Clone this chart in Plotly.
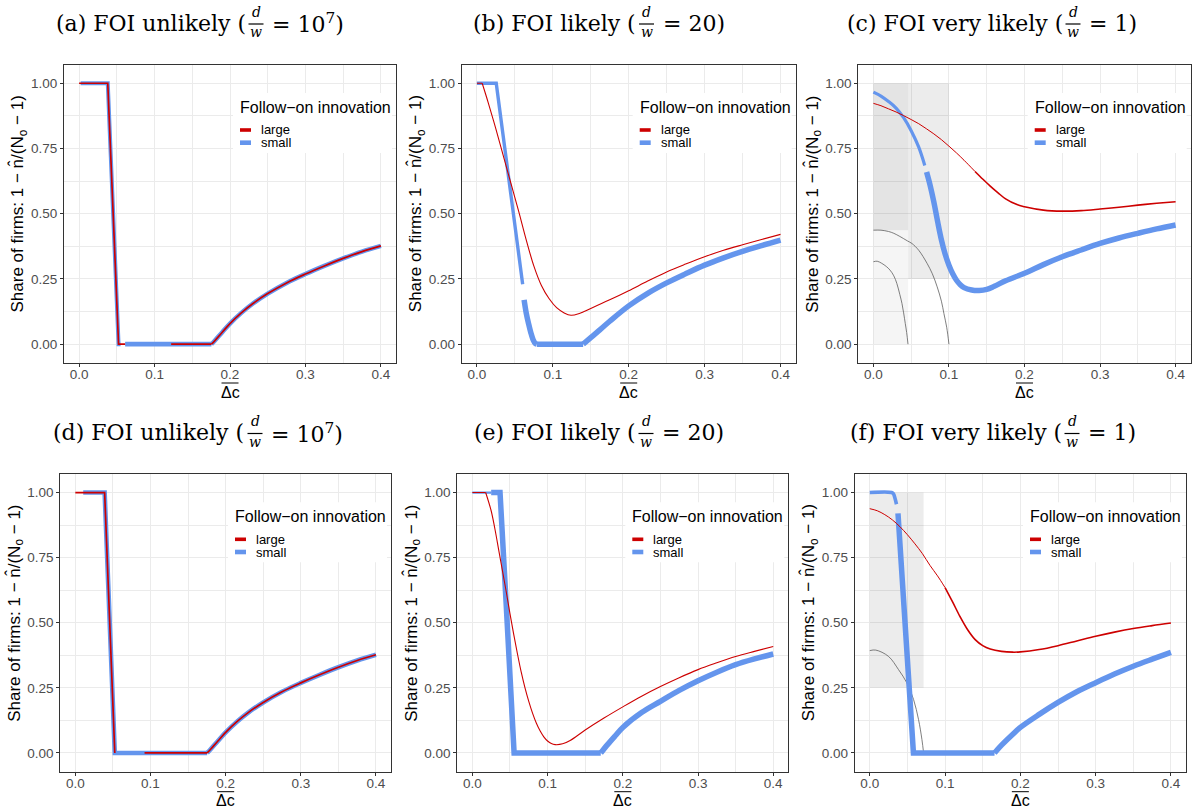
import plotly.graph_objects as go

W, H = 1194, 812

# ---------------- data ----------------
X_TICK_VALS = [0.0, 0.1, 0.2, 0.3, 0.4]
X_TICK_TEXT = ["0.0", "0.1", "0.2", "0.3", "0.4"]
Y_TICK_VALS = [0.0, 0.25, 0.5, 0.75, 1.0]
Y_TICK_TEXT = ["0.00", "0.25", "0.50", "0.75", "1.00"]

PANEL_LABELS = ["(a) FOI unlikely (", "(b) FOI likely (", "(c) FOI very likely (",
                "(d) FOI unlikely (", "(e) FOI likely (", "(f) FOI very likely ("]
PANEL_RATIO = ["10<sup>7</sup>", "20", "1", "10<sup>7</sup>", "20", "1"]
SERIES = ["large", "small"]
LEGEND_TITLE = "Follow\u2212on innovation"
Y_TITLE = "Share of firms: 1 \u2212 n\u0302/(N<sub>o</sub> \u2212 1)"
X_TITLE = "\u0394c"

# panel (a)
A_LARGE_STEP_X = [0.0, 0.038, 0.0523, 0.061]
A_LARGE_STEP_Y = [1.0, 1.0, 0.0, 0.0]
A_LARGE_FLAT_X = [0.122, 0.1754]
A_LARGE_FLAT_Y = [0.0, 0.0]
A_LARGE_RISE_X = [0.1754, 0.18, 0.19, 0.2, 0.215, 0.23, 0.25, 0.275, 0.3, 0.325, 0.35, 0.375, 0.4]
A_LARGE_RISE_Y = [0.0, 0.014, 0.047, 0.079, 0.12, 0.155, 0.194, 0.235, 0.269, 0.300, 0.329, 0.355, 0.377]
A_SMALL_STEP1_X = [0.002, 0.038, 0.0523, 0.055]
A_SMALL_STEP1_Y = [1.0, 1.0, 0.0, 0.0]
A_SMALL_STEP2_X = [0.061, 0.1754]
A_SMALL_STEP2_Y = [0.0, 0.0]
A_SMALL_RISE_X = [0.1754, 0.18, 0.19, 0.2, 0.215, 0.23, 0.25, 0.275, 0.3, 0.325, 0.35, 0.375, 0.4]
A_SMALL_RISE_Y = [0.0, 0.014, 0.047, 0.079, 0.12, 0.155, 0.194, 0.235, 0.269, 0.300, 0.329, 0.355, 0.377]

# panel (b)
B_LARGE_FLAT_X = [0.0, 0.007]
B_LARGE_FLAT_Y = [1.0, 1.0]
B_LARGE_CURVE_X = [0.007, 0.015, 0.025, 0.035, 0.045, 0.055, 0.065, 0.075, 0.085, 0.095, 0.105, 0.115,
                   0.124, 0.135, 0.15, 0.175, 0.2, 0.225, 0.25, 0.275, 0.3, 0.325, 0.35, 0.375, 0.4]
B_LARGE_CURVE_Y = [1.0, 0.925, 0.825, 0.72, 0.615, 0.51, 0.40, 0.30, 0.225, 0.175, 0.14, 0.12,
                   0.111, 0.118, 0.137, 0.17, 0.205, 0.242, 0.277, 0.307, 0.335, 0.36, 0.381, 0.401, 0.421]
B_SMALL_THIN_X = [0.0, 0.0255, 0.0603]
B_SMALL_THIN_Y = [1.0, 1.0, 0.23]
B_SMALL_DROP_X = [0.0622, 0.065, 0.068, 0.071, 0.074, 0.077, 0.079]
B_SMALL_DROP_Y = [0.17, 0.12, 0.08, 0.045, 0.018, 0.003, 0.0]
B_SMALL_FLAT_X = [0.079, 0.14]
B_SMALL_FLAT_Y = [0.0, 0.0]
B_SMALL_RISE_X = [0.14, 0.15, 0.16, 0.175, 0.2, 0.225, 0.25, 0.275, 0.3, 0.325, 0.35, 0.375, 0.4]
B_SMALL_RISE_Y = [0.0, 0.025, 0.05, 0.088, 0.147, 0.195, 0.235, 0.27, 0.303, 0.331, 0.356, 0.378, 0.399]

# panel (c)
C_LARGE1_X = [0.0, 0.01, 0.02, 0.03, 0.04, 0.05, 0.06, 0.07, 0.08, 0.09, 0.1, 0.11, 0.12, 0.1345]
C_LARGE1_Y = [0.923, 0.914, 0.902, 0.89, 0.876, 0.861, 0.845, 0.826, 0.806, 0.784, 0.759, 0.733, 0.705, 0.662]
C_LARGE2_X = [0.1345, 0.145, 0.155, 0.165, 0.175, 0.19, 0.2, 0.225, 0.25, 0.275, 0.3, 0.325, 0.35, 0.375, 0.4]
C_LARGE2_Y = [0.662, 0.632, 0.605, 0.58, 0.557, 0.535, 0.527, 0.514, 0.51, 0.512, 0.518, 0.525, 0.533, 0.54, 0.546]
C_SMALL1_X = [0.0, 0.01, 0.02, 0.03, 0.04, 0.05, 0.06, 0.068]
C_SMALL1_Y = [0.966, 0.951, 0.93, 0.905, 0.868, 0.818, 0.755, 0.685]
C_SMALL2_X = [0.0704, 0.075, 0.08, 0.085, 0.09, 0.095, 0.1, 0.105, 0.11, 0.115, 0.12, 0.13, 0.14, 0.15,
              0.16, 0.175, 0.2, 0.225, 0.25, 0.275, 0.3, 0.325, 0.35, 0.375, 0.4]
C_SMALL2_Y = [0.66, 0.61, 0.545, 0.47, 0.40, 0.345, 0.303, 0.27, 0.245, 0.228, 0.217, 0.208, 0.206, 0.21,
              0.222, 0.243, 0.272, 0.305, 0.335, 0.361, 0.386, 0.407, 0.425, 0.442, 0.457]
C_BOUND1_X = [0.0, 0.01, 0.02, 0.027, 0.035, 0.045, 0.051, 0.06, 0.071, 0.078, 0.0844, 0.09, 0.0933, 0.097, 0.1]
C_BOUND1_Y = [0.437, 0.437, 0.432, 0.425, 0.413, 0.396, 0.386, 0.36, 0.31, 0.27, 0.22, 0.165, 0.118, 0.065, 0.0]
C_BOUND2_X = [0.0, 0.005, 0.011, 0.017, 0.022, 0.027, 0.031, 0.035, 0.0378, 0.040, 0.0422, 0.044, 0.0458]
C_BOUND2_Y = [0.316, 0.318, 0.31, 0.298, 0.284, 0.262, 0.233, 0.19, 0.156, 0.12, 0.079, 0.045, 0.0]
C_SHADE_GRAY = ([0.046, 0.1], [0.25, 1.0])
C_SHADE_DARK = ([0.0, 0.046], [0.437, 1.0])
C_SHADE_LIGHT = ([0.0, 0.046], [0.0, 0.437])

# panel (d)
D_LARGE_STEP_X = [0.0, 0.039, 0.0525]
D_LARGE_STEP_Y = [1.0, 1.0, 0.0]
D_LARGE_FLAT_X = [0.0921, 0.1754]
D_LARGE_FLAT_Y = [0.0, 0.0]
D_LARGE_RISE_X = [0.1754, 0.18, 0.19, 0.2, 0.215, 0.23, 0.25, 0.275, 0.3, 0.325, 0.35, 0.375, 0.4]
D_LARGE_RISE_Y = [0.0, 0.014, 0.047, 0.079, 0.12, 0.155, 0.194, 0.235, 0.269, 0.300, 0.329, 0.355, 0.377]
D_SMALL_STEP_X = [0.0105, 0.039, 0.0525, 0.1754]
D_SMALL_STEP_Y = [1.0, 1.0, 0.0, 0.0]
D_SMALL_RISE_X = [0.1754, 0.18, 0.19, 0.2, 0.215, 0.23, 0.25, 0.275, 0.3, 0.325, 0.35, 0.375, 0.4]
D_SMALL_RISE_Y = [0.0, 0.014, 0.047, 0.079, 0.12, 0.155, 0.194, 0.235, 0.269, 0.300, 0.329, 0.355, 0.377]

# panel (e)
E_LARGE_FLAT_X = [0.0, 0.0177]
E_LARGE_FLAT_Y = [1.0, 1.0]
E_LARGE_CURVE_X = [0.0177, 0.025, 0.03, 0.035, 0.04, 0.045, 0.05, 0.055, 0.06, 0.065, 0.07, 0.075, 0.08,
                   0.085, 0.09, 0.095, 0.1, 0.105, 0.11, 0.12, 0.13, 0.15, 0.175, 0.2, 0.225, 0.25, 0.275,
                   0.3, 0.325, 0.35, 0.375, 0.4]
E_LARGE_CURVE_Y = [1.0, 0.93, 0.86, 0.78, 0.70, 0.62, 0.535, 0.455, 0.38, 0.31, 0.25, 0.198, 0.153,
                   0.115, 0.085, 0.062, 0.046, 0.036, 0.032, 0.035, 0.048, 0.088, 0.134, 0.177, 0.218, 0.255,
                   0.289, 0.32, 0.346, 0.37, 0.39, 0.409]
E_SMALL_THIN_X = [0.0, 0.025]
E_SMALL_THIN_Y = [1.0, 1.0]
E_SMALL_STEP_X = [0.025, 0.0368, 0.045, 0.05, 0.0555, 0.1707]
E_SMALL_STEP_Y = [1.0, 1.0, 0.57, 0.3, 0.0, 0.0]
E_SMALL_RISE_X = [0.1707, 0.18, 0.19, 0.2, 0.225, 0.25, 0.275, 0.3, 0.325, 0.35, 0.375, 0.4]
E_SMALL_RISE_Y = [0.0, 0.033, 0.066, 0.098, 0.155, 0.198, 0.24, 0.277, 0.31, 0.339, 0.361, 0.38]

# panel (f)
F_LARGE1_X = [0.0, 0.01, 0.02, 0.03, 0.04, 0.05, 0.06, 0.07, 0.08, 0.09, 0.1]
F_LARGE1_Y = [0.938, 0.93, 0.915, 0.895, 0.869, 0.838, 0.803, 0.765, 0.72, 0.68, 0.635]
F_LARGE2_X = [0.1, 0.11, 0.12, 0.13, 0.14, 0.15, 0.16, 0.175, 0.19, 0.2, 0.225, 0.25, 0.275, 0.3,
              0.325, 0.35, 0.375, 0.4]
F_LARGE2_Y = [0.635, 0.58, 0.523, 0.473, 0.435, 0.412, 0.399, 0.39, 0.387, 0.388, 0.397, 0.412, 0.43, 0.448,
              0.464, 0.478, 0.489, 0.499]
F_SMALL_THIN_X = [0.0, 0.029, 0.0315, 0.0335, 0.0355]
F_SMALL_THIN_Y = [1.0, 1.0, 0.995, 0.978, 0.955]
F_SMALL_STEP_X = [0.0375, 0.0425, 0.049, 0.0536, 0.058, 0.1657]
F_SMALL_STEP_Y = [0.92, 0.69, 0.39, 0.19, 0.0, 0.0]
F_SMALL_RISE_X = [0.1657, 0.175, 0.19, 0.2, 0.225, 0.25, 0.275, 0.3, 0.325, 0.35, 0.375, 0.4]
F_SMALL_RISE_Y = [0.0, 0.03, 0.072, 0.098, 0.148, 0.194, 0.235, 0.27, 0.303, 0.333, 0.36, 0.386]
F_BOUND_X = [0.0, 0.008, 0.0248, 0.0382, 0.0493, 0.0582, 0.0648, 0.0693, 0.0715]
F_BOUND_Y = [0.393, 0.395, 0.371, 0.32, 0.269, 0.205, 0.128, 0.051, 0.0]
F_SHADE_GRAY = ([0.0, 0.0715], [0.25, 1.0])

# ---------------- styles / layout ----------------
COLORS = {"large": "#CD0000", "small": "#6495ED", "bound": "#5E5E5E"}
SHADE_COLORS = {"gray": "rgba(0,0,0,0.075)", "dark": "rgba(0,0,0,0.105)", "light": "rgba(0,0,0,0.04)"}

L, S = "linear", "spline"
PANELS = [
    {"shades": [], "bounds": [],
     "segs": [("small", A_SMALL_STEP1_X, A_SMALL_STEP1_Y, 4.0, L),
              ("small", A_SMALL_STEP2_X, A_SMALL_STEP2_Y, 4.8, L),
              ("small", A_SMALL_RISE_X, A_SMALL_RISE_Y, 4.5, S),
              ("large", A_LARGE_STEP_X, A_LARGE_STEP_Y, 1.7, L),
              ("large", A_LARGE_FLAT_X, A_LARGE_FLAT_Y, 1.7, L),
              ("large", A_LARGE_RISE_X, A_LARGE_RISE_Y, 1.7, S)]},
    {"shades": [], "bounds": [],
     "segs": [("small", B_SMALL_THIN_X, B_SMALL_THIN_Y, 3.4, L),
              ("small", B_SMALL_DROP_X, B_SMALL_DROP_Y, 5.5, S),
              ("small", B_SMALL_FLAT_X, B_SMALL_FLAT_Y, 5.5, L),
              ("small", B_SMALL_RISE_X, B_SMALL_RISE_Y, 5.5, S),
              ("large", B_LARGE_FLAT_X, B_LARGE_FLAT_Y, 1.1, L),
              ("large", B_LARGE_CURVE_X, B_LARGE_CURVE_Y, 1.1, S)]},
    {"shades": [(C_SHADE_GRAY, "gray"), (C_SHADE_DARK, "dark"), (C_SHADE_LIGHT, "light")],
     "bounds": [(C_BOUND1_X, C_BOUND1_Y), (C_BOUND2_X, C_BOUND2_Y)],
     "segs": [("small", C_SMALL1_X, C_SMALL1_Y, 3.2, S), ("small", C_SMALL2_X, C_SMALL2_Y, 5.5, S),
              ("large", C_LARGE1_X, C_LARGE1_Y, 1.0, S), ("large", C_LARGE2_X, C_LARGE2_Y, 1.6, S)]},
    {"shades": [], "bounds": [],
     "segs": [("small", D_SMALL_STEP_X, D_SMALL_STEP_Y, 4.6, L),
              ("small", D_SMALL_RISE_X, D_SMALL_RISE_Y, 4.6, S),
              ("large", D_LARGE_STEP_X, D_LARGE_STEP_Y, 1.7, L),
              ("large", D_LARGE_FLAT_X, D_LARGE_FLAT_Y, 1.7, L),
              ("large", D_LARGE_RISE_X, D_LARGE_RISE_Y, 1.7, S)]},
    {"shades": [], "bounds": [],
     "segs": [("small", E_SMALL_THIN_X, E_SMALL_THIN_Y, 2.2, L),
              ("small", E_SMALL_STEP_X, E_SMALL_STEP_Y, 5.5, L),
              ("small", E_SMALL_RISE_X, E_SMALL_RISE_Y, 5.5, S),
              ("large", E_LARGE_FLAT_X, E_LARGE_FLAT_Y, 1.1, L),
              ("large", E_LARGE_CURVE_X, E_LARGE_CURVE_Y, 1.1, S)]},
    {"shades": [(F_SHADE_GRAY, "gray")],
     "bounds": [(F_BOUND_X, F_BOUND_Y)],
     "segs": [("small", F_SMALL_THIN_X, F_SMALL_THIN_Y, 3.6, S),
              ("small", F_SMALL_STEP_X, F_SMALL_STEP_Y, 5.5, L),
              ("small", F_SMALL_RISE_X, F_SMALL_RISE_Y, 5.5, S),
              ("large", F_LARGE1_X, F_LARGE1_Y, 1.0, S), ("large", F_LARGE2_X, F_LARGE2_Y, 1.6, S)]},
]

# plot-area boxes in pixels: left, right, top, bottom
BOXES = [(64, 396, 65, 363), (461.7, 795.7, 65, 363), (858.3, 1190.7, 65, 363),
         (60.3, 391, 474.3, 771.7), (457.3, 788.3, 474.3, 771.7), (854.7, 1186, 474.3, 771.7)]
TITLE_FRAC_X = [256, 646.5, 1073, 255, 646, 1072]
TITLE_Y = [23, 23, 23, 432.5, 432.5, 432.5]
X_RANGE = [-0.02, 0.42]
Y_RANGE = [-0.072, 1.07]

SANS = "Liberation Sans, Arial, sans-serif"
SERIF = "DejaVu Serif, serif"


def px(x):
    return x / W


def py(y):
    return 1 - y / H


fig = go.Figure()
shapes = []
annotations = []

for i, panel in enumerate(PANELS):
    n = "" if i == 0 else str(i + 1)
    xa, ya = "x" + n, "y" + n
    l, r, t, b = BOXES[i]
    axis_common = dict(showline=True, mirror=True, linecolor="#333333", linewidth=1,
                       ticks="outside", ticklen=3, tickcolor="#333333", tickwidth=1,
                       tickfont=dict(family=SANS, size=13.5, color="#4D4D4D"),
                       showgrid=True, gridcolor="#EBEBEB", gridwidth=1.1, zeroline=False,
                       fixedrange=True)
    fig.update_layout(**{
        "xaxis" + n: dict(domain=[px(l), px(r)], anchor=ya, range=X_RANGE,
                          tickvals=X_TICK_VALS, ticktext=X_TICK_TEXT, ticklabelstandoff=-4,
                          minor=dict(tickvals=[0.05, 0.15, 0.25, 0.35], showgrid=True,
                                     gridcolor="#EBEBEB", gridwidth=0.55, ticks=""),
                          **axis_common),
        "yaxis" + n: dict(domain=[py(b), py(t)], anchor=xa, range=Y_RANGE,
                          tickvals=Y_TICK_VALS, ticktext=Y_TICK_TEXT,
                          minor=dict(tickvals=[0.125, 0.375, 0.625, 0.875], showgrid=True,
                                     gridcolor="#EBEBEB", gridwidth=0.55, ticks=""),
                          **axis_common),
    })

    for (xs, ys), key in panel["shades"]:
        fig.add_trace(go.Scatter(x=[xs[0], xs[1], xs[1], xs[0], xs[0]],
                                 y=[ys[0], ys[0], ys[1], ys[1], ys[0]],
                                 mode="lines", fill="toself", fillcolor=SHADE_COLORS[key],
                                 line=dict(width=0), hoverinfo="skip", showlegend=False,
                                 xaxis=xa, yaxis=ya))
    for bx, by in panel["bounds"]:
        fig.add_trace(go.Scatter(x=bx, y=by, mode="lines",
                                 line=dict(color=COLORS["bound"], width=0.8, shape="spline"),
                                 hoverinfo="skip", showlegend=False, xaxis=xa, yaxis=ya))
    for series, sx, sy, wdt, shp in panel["segs"]:
        fig.add_trace(go.Scatter(x=sx, y=sy, mode="lines", name=series,
                                 line=dict(color=COLORS[series], width=wdt, shape=shp),
                                 showlegend=False, xaxis=xa, yaxis=ya))

    # panel title with stacked fraction d/w
    fx, tc = TITLE_FRAC_X[i], TITLE_Y[i]
    annotations.append(dict(text=PANEL_LABELS[i], x=px(fx - 8.5), y=py(tc), xref="paper", yref="paper",
                            xanchor="right", yanchor="middle", showarrow=False,
                            font=dict(family=SERIF, size=22, color="black")))
    annotations.append(dict(text="<i>d</i>", x=px(fx), y=py(tc - 11), xref="paper", yref="paper",
                            xanchor="center", yanchor="middle", showarrow=False,
                            font=dict(family=SERIF, size=14, color="black")))
    annotations.append(dict(text="<i>w</i>", x=px(fx), y=py(tc + 9.5), xref="paper", yref="paper",
                            xanchor="center", yanchor="middle", showarrow=False,
                            font=dict(family=SERIF, size=14, color="black")))
    shapes.append(dict(type="line", xref="paper", yref="paper", x0=px(fx - 7.5), x1=px(fx + 7.5),
                       y0=py(tc + 1), y1=py(tc + 1), line=dict(color="black", width=1.2)))
    annotations.append(dict(text="= " + PANEL_RATIO[i] + ")", x=px(fx + 14), y=py(tc),
                            xref="paper", yref="paper", xanchor="left", yanchor="middle",
                            showarrow=False, font=dict(family=SERIF, size=22, color="black")))

    # axis titles
    annotations.append(dict(text=Y_TITLE, x=px(l - 45.5), y=py((t + b) / 2 - 10), xref="paper",
                            yref="paper", xanchor="center", yanchor="middle", textangle=-90,
                            showarrow=False, font=dict(family=SANS, size=17, color="black")))
    cx = (l + r) / 2
    annotations.append(dict(text=X_TITLE, x=px(cx), y=py(b + 29), xref="paper", yref="paper",
                            xanchor="center", yanchor="middle", showarrow=False,
                            font=dict(family=SANS, size=16, color="black")))
    shapes.append(dict(type="line", xref="paper", yref="paper", x0=px(cx - 8.5), x1=px(cx + 8.5),
                       y0=py(b + 20), y1=py(b + 20), line=dict(color="black", width=1)))

    # legend box inside panel
    shapes.append(dict(type="rect", xref="paper", yref="paper", x0=px(r - 163), x1=px(r - 4),
                       y0=py(t + 28), y1=py(t + 88), fillcolor="white", line=dict(width=0),
                       layer="above"))
    annotations.append(dict(text=LEGEND_TITLE, x=px(r - 158), y=py(t + 42), xref="paper", yref="paper",
                            xanchor="left", yanchor="middle", showarrow=False,
                            font=dict(family=SANS, size=16, color="black")))
    for k, (series, oy, kw) in enumerate([("large", 65, 3.6), ("small", 77.7, 4.6)]):
        shapes.append(dict(type="line", xref="paper", yref="paper", x0=px(r - 156), x1=px(r - 145),
                           y0=py(t + oy), y1=py(t + oy), line=dict(color=COLORS[series], width=kw),
                           layer="above"))
        annotations.append(dict(text=SERIES[k], x=px(r - 137), y=py(t + oy), xref="paper", yref="paper",
                                xanchor="left", yanchor="middle", showarrow=False,
                                font=dict(family=SANS, size=13, color="black")))

fig.update_layout(width=W, height=H, margin=dict(l=0, r=0, t=0, b=0),
                  paper_bgcolor="white", plot_bgcolor="white",
                  shapes=shapes, annotations=annotations, showlegend=False)

fig.write_html("out.html", config={"displayModeBar": False},
               post_script="document.body.style.margin='0';")
